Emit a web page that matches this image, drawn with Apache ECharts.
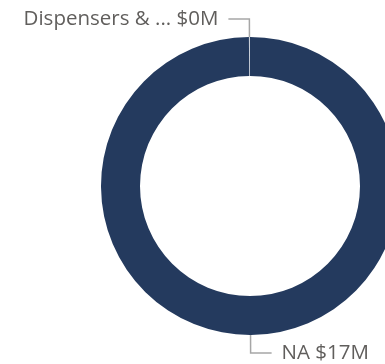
<!DOCTYPE html>
<html>
<head>
<meta charset="utf-8">
<script src="https://cdn.jsdelivr.net/npm/echarts@6/dist/echarts.min.js"></script>
<style>
html,body{margin:0;padding:0;background:#fff;}
#c{width:385px;height:364px;}
</style>
</head>
<body>
<div id="c"></div>
<script>
const categories = ['Dispensers & ...', 'NA'];
const values = [0.02, 17];            // $M
const colors = ['#c9cfd9', '#243a5e'];

const chart = echarts.init(document.getElementById('c'), null, {renderer: 'canvas'});
chart.setOption({
  animation: false,
  series: [{
    type: 'pie',
    center: [250, 186],
    radius: [110, 149],
    startAngle: 90,
    clockwise: false,
    avoidLabelOverlap: false,
    data: categories.map((n, i) => ({name: n, value: values[i], itemStyle: {color: colors[i]}})),
    label: {
      show: true,
      formatter: p => p.name + ' $' + Math.round(p.value) + 'M',
      fontFamily: 'Open Sans',
      fontSize: 20.5,
      color: '#605e5c',
      distanceToLabelLine: 10
    },
    labelLine: {
      show: true,
      length: 18,
      length2: 21,
      lineStyle: {color: '#a6a6a6', width: 1.5}
    },
    emphasis: {disabled: true}
  }]
});
</script>
</body>
</html>
